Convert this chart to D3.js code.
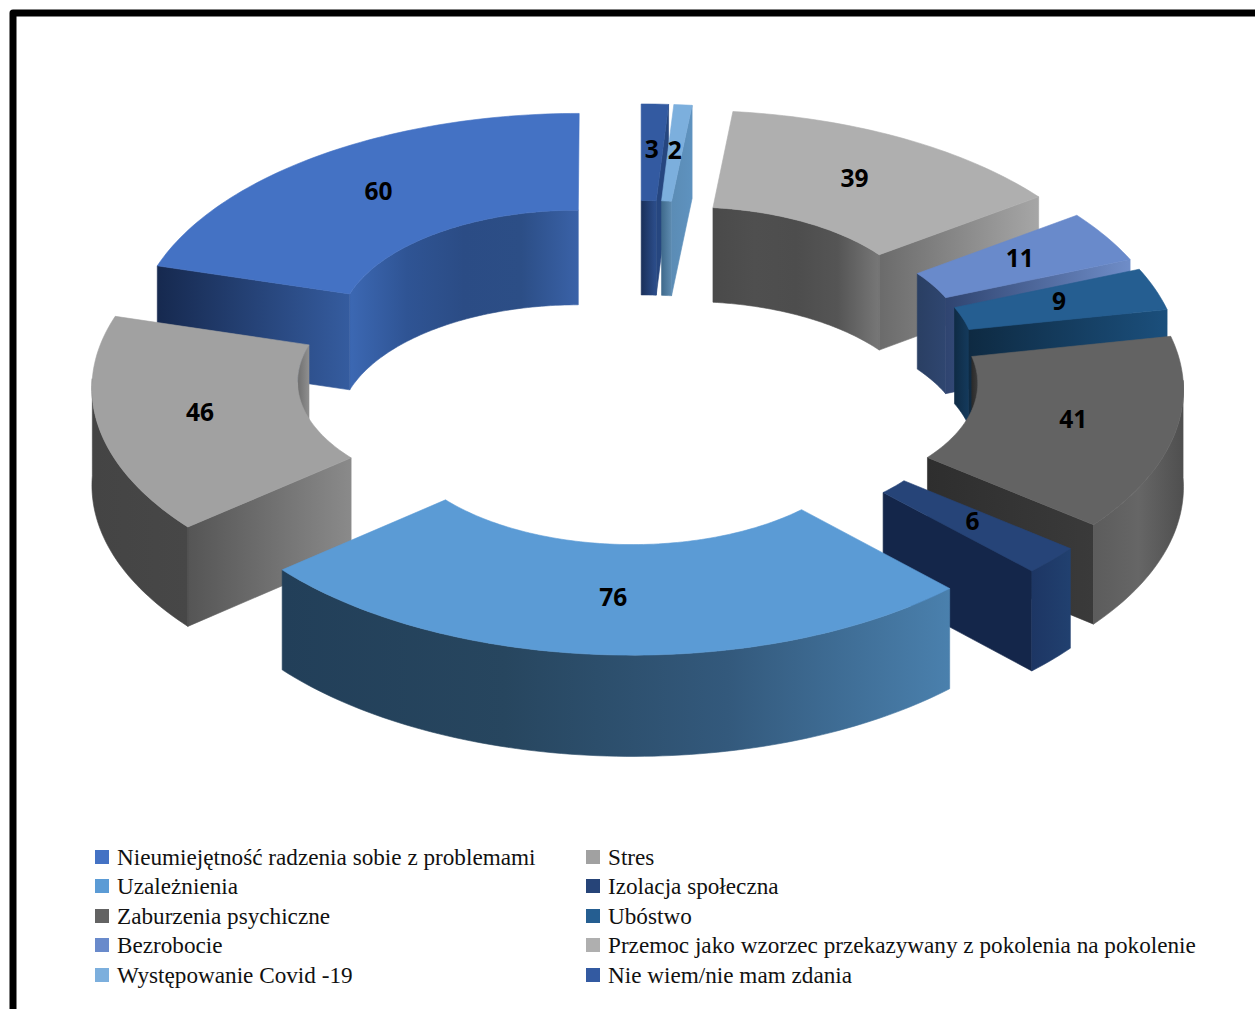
<!DOCTYPE html>
<html>
<head>
<meta charset="utf-8">
<script src="https://cdnjs.cloudflare.com/ajax/libs/d3/7.8.5/d3.min.js"></script>
<style>
  html, body { margin: 0; background: #fff; overflow: hidden; }
  svg { display: block; }
  .value { font-family: "Open Sans", sans-serif; font-weight: 700; font-size: 24.5px; fill: #000; }
  .legend { font-family: "Liberation Serif", serif; font-size: 23.2px; fill: #111; }
</style>
</head>
<body>
<div id="chart"></div>
<script>
const width = 1255
const height = 1009

const categories = [
  "Nieumiejętność radzenia sobie z problemami", "Stres", "Uzależnienia", "Izolacja społeczna",
  "Zaburzenia psychiczne", "Ubóstwo", "Bezrobocie",
  "Przemoc jako wzorzec przekazywany z pokolenia na pokolenie",
  "Występowanie Covid -19", "Nie wiem/nie mam zdania"
]
const values = [60, 46, 76, 6, 41, 9, 11, 39, 2, 3]
const topColors = ["#4472c4", "#a1a1a1", "#5b9bd5", "#264478", "#636363", "#255e91", "#698aCB", "#afafaf", "#7cafdd", "#335aa1"]

/* wall shading, left to right on screen */
const outerWalls = [null, ["#444444", "#474747"], ["#223f59", "#27465f", "#33597c", "#4a80ad"], ["#1d3664", "#21406f"],
  ["#5c5c5c", "#666666", "#4f4f4f"], null, null, null, null, null]
const innerWalls = [["#3c68b3", "#2f5494", "#2b4c85", "#2c4e86", "#3a62a8"], ["#6f6f6f", "#8f8f8f"], null, null,
  ["#2a2a2a", "#3c3c3c"], ["#0f2b45", "#143a5c"], ["#2a3f63", "#2f4670"], ["#4a4a4a", "#4f4f4f", "#4d4d4d", "#555555", "#777777"],
  ["#3f6a8c", "#5e8bb0"], ["#1a305a", "#2c4e8c"]]
const endWalls = [["#16294f", "#355c9f"], ["#555555", "#8a8a8a"], null, ["#14264a", "#14264a"],
  ["#2e2e2e", "#3a3a3a"], ["#0e2a42", "#1b4f7c"], ["#2f4470", "#6f8dc8"], ["#6b6b6b", "#a6a6a6"],
  ["#5b8cb5", "#5e92bf"], ["#26467f", "#26467f"]]

const legendRows = [857, 886, 916, 945, 975]
const legendCols = [95, 586]

const cx = 638
const cy = 368
const tilt = 0.503
const camera = 13000
const outerR = 445
const innerR = 240
const explode = 102
const drop = 97

const svg = d3.select("#chart").append("svg")
  .attr("width", width)
  .attr("height", height)

const defs = svg.append("defs")

svg.append("path")
  .attr("d", d3.line()([[13, height + 10], [13, 13], [width + 10, 13]]))
  .attr("fill", "none")
  .attr("stroke", "#000")
  .attr("stroke-width", 7)
  .attr("stroke-linejoin", "round")

const pie = d3.pie().sort(null)
const slices = pie(values).map((d, i) => ({ ...d, i }))

function project(d, a, r, down){
  const mid = (d.startAngle + d.endAngle) / 2
  const X = -r * Math.sin(a) - explode * Math.sin(mid)
  const Z = -r * Math.cos(a) - explode * Math.cos(mid)
  const s = 1 / (1 - Z / camera)
  return [cx + X * s, cy + (Z * tilt + down) * s]
}

function arcPoints(d, a0, a1, r, down){
  const n = Math.max(2, Math.ceil((a1 - a0) / 0.02))
  return d3.range(n + 1).map(j => project(d, a0 + (a1 - a0) * j / n, r, down))
}

const line = d3.line()
let gradId = 0

function face(g, pts, colors){
  const [x0, x1] = d3.extent(pts, p => p[0])
  const id = "wall" + gradId++
  const grad = defs.append("linearGradient")
    .attr("id", id)
    .attr("gradientUnits", "userSpaceOnUse")
    .attr("x1", x0).attr("x2", x1).attr("y1", 0).attr("y2", 0)
  const offset = d3.scaleLinear().domain([0, colors.length - 1]).range([0, 1])
  colors.forEach((c, j) => grad.append("stop").attr("offset", offset(j)).attr("stop-color", c))
  g.append("path")
    .attr("d", line(pts) + "Z")
    .attr("fill", `url(#${id})`)
    .attr("stroke", `url(#${id})`)
    .attr("stroke-width", 0.6)
}

function wall(g, d, a0, a1, r, colors){
  if(a1 <= a0 || !colors) return
  const up = arcPoints(d, a0, a1, r, 0)
  const low = arcPoints(d, a0, a1, r, drop)
  face(g, up.concat(low.reverse()), colors)
}

const order = slices.slice().sort((p, q) =>
  Math.cos((q.startAngle + q.endAngle) / 2) - Math.cos((p.startAngle + p.endAngle) / 2))

const PI = Math.PI

for(const d of order){
  const g = svg.append("g")
  const a0 = d.startAngle
  const a1 = d.endAngle
  const mid = (a0 + a1) / 2

  /* inner wall only faces us on the back half */
  wall(g, d, a0, Math.min(a1, PI / 2), innerR, innerWalls[d.i])
  wall(g, d, Math.max(a0, 3 * PI / 2), a1, innerR, innerWalls[d.i])

  /* cut face */
  const cutAngle = mid < PI ? a1 : a0
  const showCut = (mid < PI && a1 < PI) || (mid > PI && a0 > PI)
  if(showCut && endWalls[d.i]){
    face(g, [
      project(d, cutAngle, innerR, 0),
      project(d, cutAngle, outerR, 0),
      project(d, cutAngle, outerR, drop),
      project(d, cutAngle, innerR, drop)
    ], endWalls[d.i])
  }

  /* outer wall only faces us on the front half */
  wall(g, d, Math.max(a0, PI / 2), Math.min(a1, 3 * PI / 2), outerR, outerWalls[d.i])

  /* top */
  const topPts = arcPoints(d, a0, a1, outerR, 0).concat(arcPoints(d, a0, a1, innerR, 0).reverse())
  g.append("path")
    .attr("d", line(topPts) + "Z")
    .attr("fill", topColors[d.i])
    .attr("stroke", topColors[d.i])
    .attr("stroke-width", 0.6)
}

/* values sit on top of everything */
svg.selectAll("text.value")
  .data(slices)
  .join("text")
  .attr("class", "value")
  .attr("text-anchor", "middle")
  .attr("dominant-baseline", "central")
  .attr("dy", -3)
  .attr("x", d => project(d, (d.startAngle + d.endAngle) / 2, (outerR + innerR) / 2, 0)[0])
  .attr("y", d => project(d, (d.startAngle + d.endAngle) / 2, (outerR + innerR) / 2, 0)[1])
  .text(d => d.value)

/* legend fills column by column per row */
const legend = svg.selectAll("g.item")
  .data(categories)
  .join("g")
  .attr("class", "item")
  .attr("transform", (d, i) => `translate(${legendCols[i % 2]},${legendRows[Math.floor(i / 2)]})`)

legend.append("rect")
  .attr("x", 0).attr("y", -7)
  .attr("width", 14).attr("height", 14)
  .attr("fill", (d, i) => topColors[i])

legend.append("text")
  .attr("class", "legend")
  .attr("x", 22)
  .attr("y", 8)
  .text(d => d)
</script>
</body>
</html>
